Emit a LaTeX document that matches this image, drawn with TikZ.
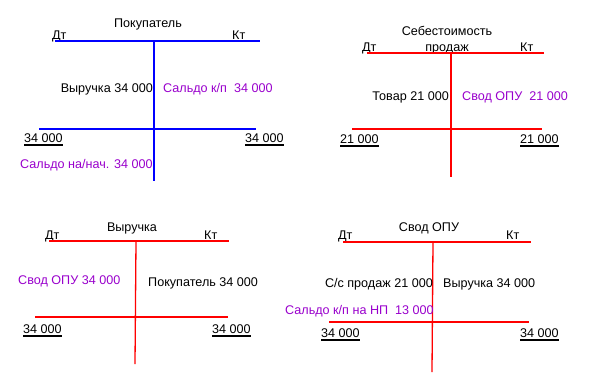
\documentclass[tikz,border=0pt]{standalone}
\usepackage{fontspec}
\setmainfont{Liberation Sans}
\definecolor{saldo}{RGB}{153,0,204}
\tikzset{
  lbl/.style={inner sep=0pt, font=\fontsize{12.6}{15}\selectfont},
  sum/.style={lbl, anchor=base west},
  acc/.style={line width=1.6pt},
  uline/.style={line width=0.8pt}
}
\newcommand{\uline}[1]{%
  \draw[uline] ([yshift=-1.6pt]#1.south west) -- ([yshift=-1.6pt]#1.south east);
  \draw[uline] ([yshift=-3.4pt]#1.south west) -- ([yshift=-3.4pt]#1.south east);}
\begin{document}
\begin{tikzpicture}[x=1pt, y=-1pt]
  \useasboundingbox (0,0) rectangle (607,391);

  % Покупатель
  \node[lbl, anchor=base] (pt) at (148,27) {Покупатель};
  \node[sum] (pd) at (52,39) {Дт};
  \node[sum] (pk) at (232,39) {Кт};
  \coordinate (p1) at (55,41);  \coordinate (p2) at (260,41);
  \coordinate (p3) at (154,41); \coordinate (p4) at (154,181);
  \coordinate (p5) at (39,129); \coordinate (p6) at (256,129);
  \draw[acc, blue] (p1) -- (p2);
  \draw[acc, blue] (p5) -- (p6);
  \draw[line width=1.3pt, blue] (p3) -- (p4);
  \node[lbl, anchor=base east] (pa) at (153,92) {Выручка 34 000};
  \node[sum, saldo] (pb) at (163,92) {Сальдо к/п\ \ 34 000};
  \node[sum] (pc) at (24,142) {34 000};
  \node[sum] (pe) at (245,142) {34 000};
  \node[sum, saldo] (pf) at (20,168) {Сальдо на/нач. 34 000};
  \uline{pc} \uline{pe}

  % Себестоимость продаж
  \node[lbl, anchor=base] (st) at (447,35) {Себестоимость};
  \node[lbl, anchor=base] (st2) at (447,51) {продаж};
  \node[sum] (sd) at (362,51) {Дт};
  \node[sum] (sk) at (520,51) {Кт};
  \coordinate (s1) at (367,53);  \coordinate (s2) at (544,53);
  \coordinate (s3) at (451,53);  \coordinate (s4) at (451,177);
  \coordinate (s5) at (352,129); \coordinate (s6) at (542,129);
  \draw[acc, red] (s1) -- (s2);
  \draw[acc, red] (s5) -- (s6);
  \draw[acc, red] (s3) -- (s4);
  \node[lbl, anchor=base east] (sa) at (449,100) {Товар 21 000};
  \node[sum, saldo] (sb) at (462,100) {Свод ОПУ\ \ 21 000};
  \node[sum] (sc) at (340,143) {21 000};
  \node[sum] (se) at (520,143) {21 000};
  \uline{sc} \uline{se}

  % Выручка
  \node[lbl, anchor=base] (vt) at (132,231) {Выручка};
  \node[sum] (vd) at (45,239) {Дт};
  \node[sum] (vk) at (204,239) {Кт};
  \coordinate (v1) at (49,241);  \coordinate (v2) at (229,241);
  \coordinate (v3) at (136,241); \coordinate (v4) at (135,364);
  \coordinate (v5) at (35,317);  \coordinate (v6) at (228,317);
  \draw[acc, red] (v1) -- (v2);
  \draw[acc, red] (v5) -- (v6);
  \draw[line width=1.3pt, red] (v3) -- (v4);
  \node[sum, saldo] (va) at (18,284) {Свод ОПУ 34 000};
  \node[sum] (vb) at (148,286) {Покупатель 34 000};
  \node[sum] (vc) at (23,333) {34 000};
  \node[sum] (ve) at (212,333) {34 000};
  \uline{vc} \uline{ve}

  % Свод ОПУ
  \node[lbl, anchor=base] (ot) at (429,231) {Свод ОПУ};
  \node[sum] (od) at (338,239) {Дт};
  \node[sum] (ok) at (506,239) {Кт};
  \coordinate (o1) at (343,242); \coordinate (o2) at (531,242);
  \coordinate (o3) at (433,242); \coordinate (o4) at (432,372);
  \coordinate (o5) at (329,322); \coordinate (o6) at (529,322);
  \draw[acc, red] (o1) -- (o2);
  \draw[acc, red] (o5) -- (o6);
  \draw[line width=1.3pt, red] (o3) -- (o4);
  \node[lbl, anchor=base east] (oa) at (433,287) {С/с продаж 21 000};
  \node[sum] (ob) at (443,287) {Выручка 34 000};
  \node[sum, saldo] (oc) at (285,314) {Сальдо к/п на НП\ \ 13 000};
  \node[sum] (oe) at (321,337) {34 000};
  \node[sum] (of) at (520,337) {34 000};
  \uline{oe} \uline{of}
\end{tikzpicture}
\end{document}
